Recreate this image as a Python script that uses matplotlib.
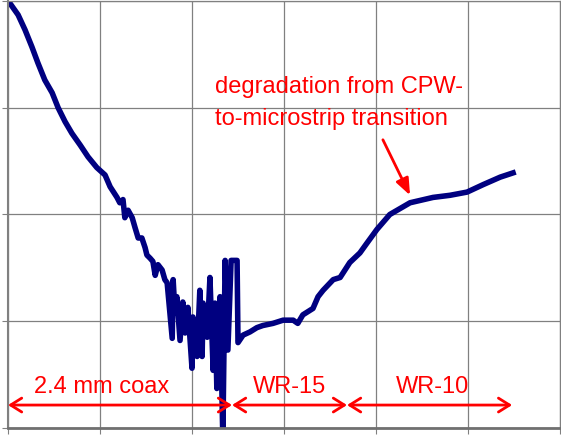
import matplotlib
matplotlib.use('Agg')
import matplotlib.pyplot as plt

plt.rcParams['font.family'] = ['Liberation Sans', 'DejaVu Sans']

# measured curve (frequency in GHz, loss in arbitrary grid units)
freq = [0.0, 0.4, 2.2, 3.7, 5.2, 6.5, 8.0, 9.6, 10.9, 12.4, 13.9, 15.7, 17.4,
        19.3, 21.1, 22.2, 23.7,
        24.3, 25.0, 25.4, 26.1, 27.0, 27.6, 28.3, 29.1, 29.8, 30.2, 30.9,
        31.5, 32.0, 32.6, 33.5, 34.1, 34.6,
        35.7, 35.9, 36.3, 36.7, 37.4, 38.0, 38.5, 39.1, 40.0, 40.2, 41.1,
        41.7, 42.2, 42.4, 43.3, 43.9, 44.6, 45.0, 45.4, 46.1, 46.7, 47.2,
        47.8, 48.5, 49.8, 50.0, 51.1, 52.6, 54.1, 55.4, 57.6, 59.8, 62.0,
        63.0, 64.1, 66.3, 67.4, 68.5, 70.7, 72.2, 74.3, 76.5, 78.0, 80.2,
        83.0, 87.4, 92.4, 96.1, 99.8, 103.3, 107.0, 109.8]
loss = [4.04, 3.98, 3.87, 3.73, 3.57, 3.42, 3.26, 3.14, 3.00, 2.87, 2.76, 2.65,
        2.54, 2.44, 2.37, 2.26, 2.16,
        2.11, 2.14, 1.97, 2.04, 1.97, 1.88, 1.78, 1.78, 1.69, 1.62, 1.59,
        1.56, 1.43, 1.53, 1.48, 1.39, 1.36,
        0.84, 1.39, 1.08, 1.23, 0.82, 1.18, 0.89, 1.13, 0.56, 1.04, 0.67,
        1.29, 0.67, 1.17, 0.85, 1.41, 0.54, 1.17, 0.37, 1.23, -0.10, 1.57,
        0.73, 1.57, 1.57, 0.80, 0.87, 0.90, 0.94, 0.96, 0.98, 1.01, 1.01,
        0.98, 1.06, 1.12, 1.23, 1.29, 1.39, 1.41, 1.55, 1.64, 1.73, 1.86,
        2.00, 2.11, 2.16, 2.18, 2.21, 2.28, 2.35, 2.39]

# waveguide bands: label, start, end (GHz)
band_labels = ['2.4 mm coax', 'WR-15', 'WR-10']
band_start = [0.0, 48.7, 73.7]
band_end = [48.7, 73.7, 109.6]
label_x = [20.4, 61.1, 92.2]

fig = plt.figure(figsize=(5.61, 4.36), dpi=100)
ax = fig.add_axes([8 / 561, 8 / 436, 552 / 561, 427 / 436])

ax.plot(freq, loss, color='#000080', lw=4, solid_joinstyle='round')

ax.set_xlim(0, 120)
ax.set_ylim(0, 4)
ax.set_xticks(range(0, 121, 20))
ax.set_yticks(range(0, 5))
ax.grid(True, color='#808080', lw=0.9)
ax.set_axisbelow(True)
ax.tick_params(labelbottom=False, labelleft=False, direction='out',
               length=4, color='#808080')
for s in ax.spines.values():
    s.set_color('#808080')
    s.set_linewidth(0.9)
ax.spines['left'].set_linewidth(1.5)
ax.spines['bottom'].set_linewidth(2)
ax.spines['bottom'].set_color('#707070')

red = '#FF0000'
for lab, x0, x1, xl in zip(band_labels, band_start, band_end, label_x):
    ax.annotate('', xy=(x1, 0.215), xytext=(x0, 0.215),
                arrowprops=dict(arrowstyle='<->,head_length=0.4,head_width=0.25',
                                color=red, lw=2, shrinkA=0, shrinkB=0,
                                mutation_scale=20))
    ax.text(xl, 0.38, lab, color=red, fontsize=17, ha='center', va='center')

ax.text(45, 3.19, 'degradation from CPW-', color=red, fontsize=17,
        ha='left', va='center')
ax.text(45, 2.89, 'to-microstrip transition', color=red, fontsize=17,
        ha='left', va='center')
ax.annotate('', xy=(87.4, 2.18), xytext=(81.5, 2.70),
            arrowprops=dict(arrowstyle='-|>,head_length=0.5,head_width=0.2',
                            color=red, lw=2, shrinkA=0, shrinkB=0,
                            mutation_scale=20))

fig.savefig('out.png', dpi=100)
